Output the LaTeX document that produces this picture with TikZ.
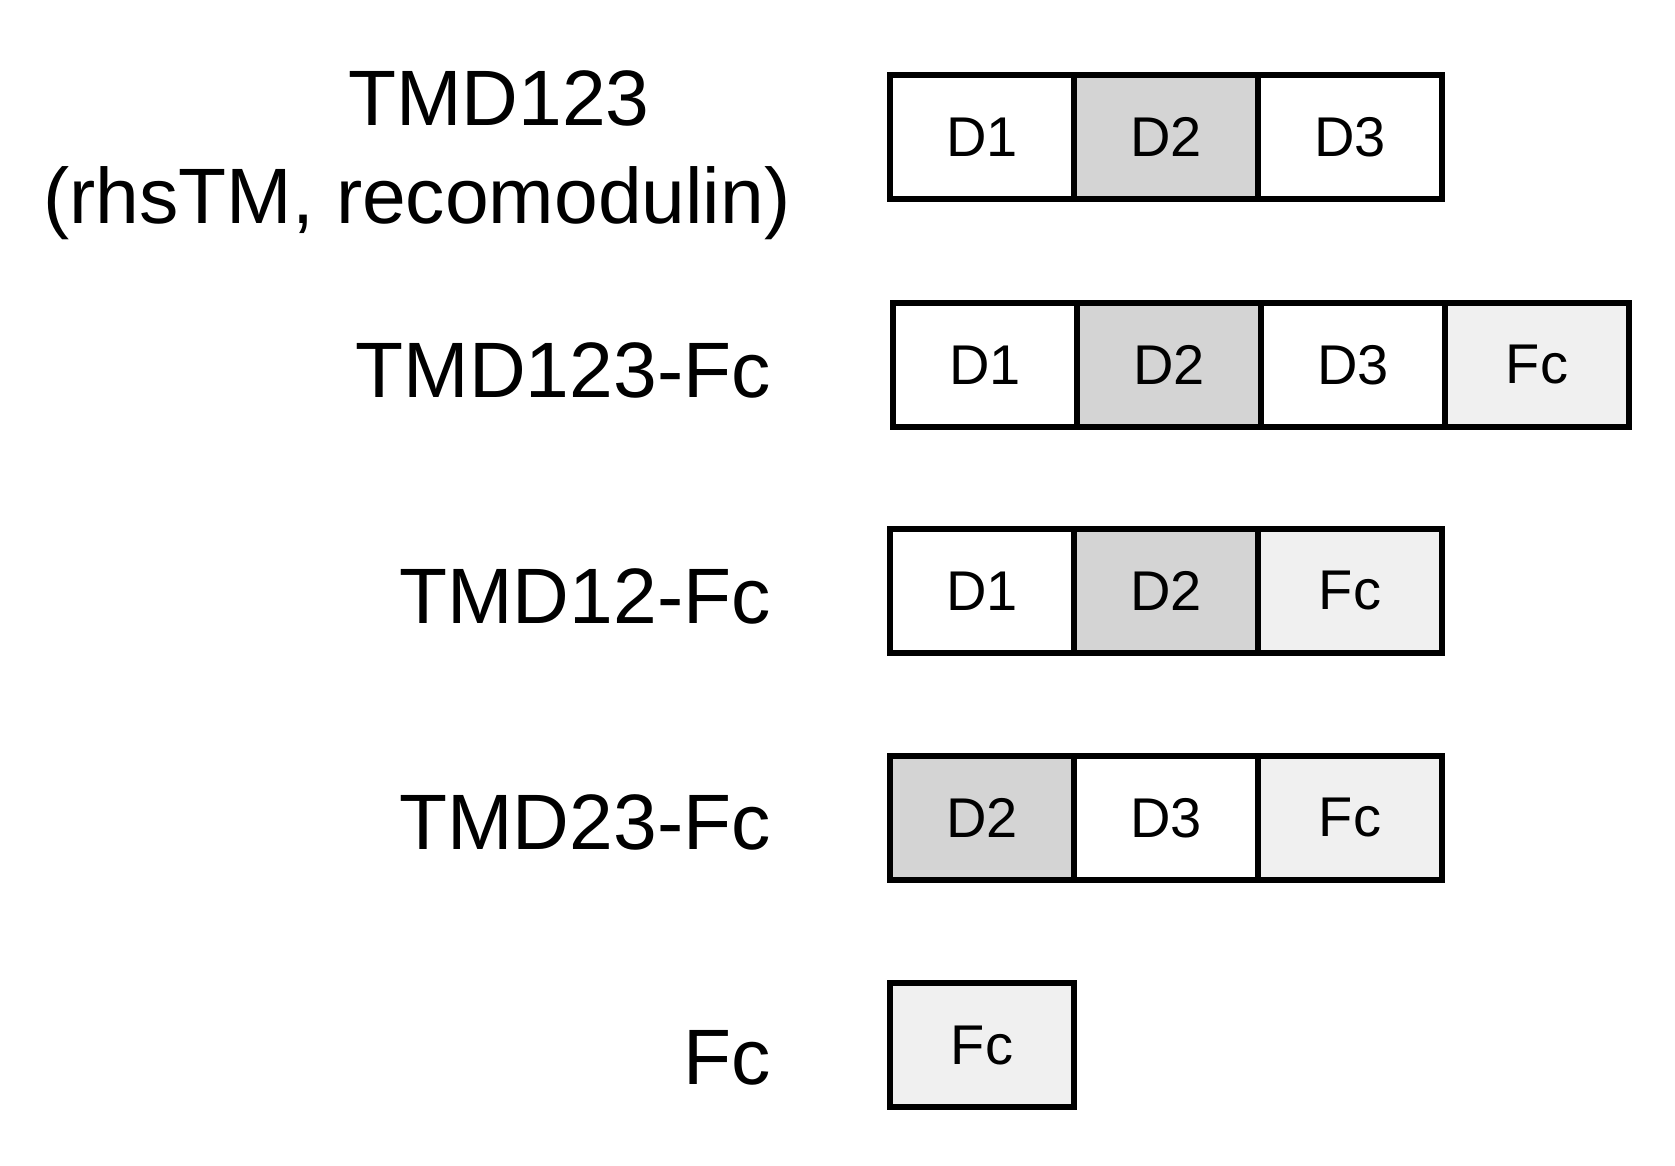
\documentclass[tikz,border=0pt]{standalone}
\usepackage{fontspec}
\setmainfont{Liberation Sans}
\usetikzlibrary{positioning}
\definecolor{dtwogray}{HTML}{D4D4D4}
\definecolor{fcgray}{HTML}{F0F0F0}
\begin{document}
\begin{tikzpicture}[x=0.5pt,y=-0.5pt,node distance=0pt,
	cell/.style={draw,line width=2.7pt,minimum width=92pt,minimum height=62pt,
		inner sep=0pt,outer sep=0pt,fill=white,font=\fontsize{28}{28}\selectfont},
	dtwo/.style={cell,fill=dtwogray},
	fc/.style={cell,fill=fcgray},
	lbl/.style={anchor=base east,inner sep=0pt,font=\fontsize{39.3}{39.3}\selectfont}]
	\useasboundingbox (0,0) rectangle (1675,1166);
	\node (tmdA) [lbl,anchor=base] at (499,126) {TMD123};
	\node (tmdB) [lbl,anchor=base] at (417,224) {(rhsTM, recomodulin)};
	\node (aD1) [cell,anchor=west] at (890,137) {D1};
	\node (aD2) [dtwo,right=of aD1] {D2};
	\node (aD3) [cell,right=of aD2] {D3};
	\node (tmdFc) [lbl] at (771,397) {TMD123-Fc};
	\node (bD1) [cell,anchor=west] at (893,365) {D1};
	\node (bD2) [dtwo,right=of bD1] {D2};
	\node (bD3) [cell,right=of bD2] {D3};
	\node (bFc) [fc,right=of bD3] {Fc};
	\node (tmdtwelve) [lbl] at (771,623) {TMD12-Fc};
	\node (cD1) [cell,anchor=west] at (890,591) {D1};
	\node (cD2) [dtwo,right=of cD1] {D2};
	\node (cFc) [fc,right=of cD2] {Fc};
	\node (tmdtwothree) [lbl] at (771,849) {TMD23-Fc};
	\node (dD2) [dtwo,anchor=west] at (890,818) {D2};
	\node (dD3) [cell,right=of dD2] {D3};
	\node (dFc) [fc,right=of dD3] {Fc};
	\node (fcOnly) [lbl] at (771,1084) {Fc};
	\node (eFc) [fc,anchor=west] at (890,1045) {Fc};
\end{tikzpicture}
\end{document}
